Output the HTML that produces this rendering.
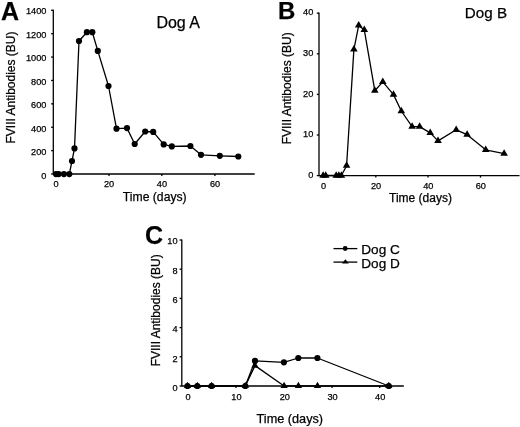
<!DOCTYPE html>
<html><head><meta charset="utf-8"><style>
html,body{margin:0;padding:0;background:#fff;}
body{width:520px;height:427px;overflow:hidden;position:relative;}
svg{position:absolute;left:0;top:0;filter:blur(0.35px);}
text{font-family:"Liberation Sans", sans-serif;fill:#000;stroke:#000;stroke-width:0.25px;}
</style></head><body>
<svg width="520" height="427" viewBox="0 0 520 427">
<line x1="53.30" y1="9.70" x2="53.30" y2="174.60" stroke="#000" stroke-width="1.3"/>
<line x1="53.30" y1="174.00" x2="254.70" y2="174.00" stroke="#000" stroke-width="1.3"/>
<line x1="51.10" y1="174.00" x2="53.30" y2="174.00" stroke="#000" stroke-width="1.3"/>
<text transform="translate(46.40,178.59) scale(1,1)" font-size="9.2" text-anchor="end">0</text>
<line x1="51.10" y1="150.61" x2="53.30" y2="150.61" stroke="#000" stroke-width="1.3"/>
<text transform="translate(46.40,155.09) scale(1,1)" font-size="9.2" text-anchor="end">200</text>
<line x1="51.10" y1="127.23" x2="53.30" y2="127.23" stroke="#000" stroke-width="1.3"/>
<text transform="translate(46.40,131.59) scale(1,1)" font-size="9.2" text-anchor="end">400</text>
<line x1="51.10" y1="103.84" x2="53.30" y2="103.84" stroke="#000" stroke-width="1.3"/>
<text transform="translate(46.40,108.09) scale(1,1)" font-size="9.2" text-anchor="end">600</text>
<line x1="51.10" y1="80.46" x2="53.30" y2="80.46" stroke="#000" stroke-width="1.3"/>
<text transform="translate(46.40,84.59) scale(1,1)" font-size="9.2" text-anchor="end">800</text>
<line x1="51.10" y1="57.07" x2="53.30" y2="57.07" stroke="#000" stroke-width="1.3"/>
<text transform="translate(46.40,61.09) scale(1,1)" font-size="9.2" text-anchor="end">1000</text>
<line x1="51.10" y1="33.69" x2="53.30" y2="33.69" stroke="#000" stroke-width="1.3"/>
<text transform="translate(46.40,37.59) scale(1,1)" font-size="9.2" text-anchor="end">1200</text>
<line x1="51.10" y1="10.30" x2="53.30" y2="10.30" stroke="#000" stroke-width="1.3"/>
<text transform="translate(46.40,14.09) scale(1,1)" font-size="9.2" text-anchor="end">1400</text>
<line x1="56.00" y1="174.00" x2="56.00" y2="176.00" stroke="#000" stroke-width="1.3"/>
<text transform="translate(56.10,187.19) scale(1,1)" font-size="9.2" text-anchor="middle">0</text>
<line x1="109.00" y1="174.00" x2="109.00" y2="176.00" stroke="#000" stroke-width="1.3"/>
<text transform="translate(109.10,187.19) scale(1,1)" font-size="9.2" text-anchor="middle">20</text>
<line x1="161.80" y1="174.00" x2="161.80" y2="176.00" stroke="#000" stroke-width="1.3"/>
<text transform="translate(161.90,187.19) scale(1,1)" font-size="9.2" text-anchor="middle">40</text>
<line x1="214.90" y1="174.00" x2="214.90" y2="176.00" stroke="#000" stroke-width="1.3"/>
<text transform="translate(215.00,187.19) scale(1,1)" font-size="9.2" text-anchor="middle">60</text>
<polyline points="56.0,174.1 58.6,174.1 63.9,174.1 69.3,174.1 72.0,161.0 74.5,148.4 79.0,41.0 86.9,32.2 92.3,32.2 97.8,50.9 108.5,86.0 116.5,128.7 127.0,128.1 134.7,144.0 145.2,131.5 153.2,131.9 163.7,144.4 171.8,146.4 190.4,146.0 201.0,154.8 219.8,155.8 238.3,156.5" fill="none" stroke="#000" stroke-width="1.3" stroke-linejoin="round"/>
<circle cx="56.0" cy="174.1" r="3.1" fill="#000"/>
<circle cx="58.6" cy="174.1" r="3.1" fill="#000"/>
<circle cx="63.9" cy="174.1" r="3.1" fill="#000"/>
<circle cx="69.3" cy="174.1" r="3.1" fill="#000"/>
<circle cx="72.0" cy="161.0" r="3.1" fill="#000"/>
<circle cx="74.5" cy="148.4" r="3.1" fill="#000"/>
<circle cx="79.0" cy="41.0" r="3.1" fill="#000"/>
<circle cx="86.9" cy="32.2" r="3.1" fill="#000"/>
<circle cx="92.3" cy="32.2" r="3.1" fill="#000"/>
<circle cx="97.8" cy="50.9" r="3.1" fill="#000"/>
<circle cx="108.5" cy="86.0" r="3.1" fill="#000"/>
<circle cx="116.5" cy="128.7" r="3.1" fill="#000"/>
<circle cx="127.0" cy="128.1" r="3.1" fill="#000"/>
<circle cx="134.7" cy="144.0" r="3.1" fill="#000"/>
<circle cx="145.2" cy="131.5" r="3.1" fill="#000"/>
<circle cx="153.2" cy="131.9" r="3.1" fill="#000"/>
<circle cx="163.7" cy="144.4" r="3.1" fill="#000"/>
<circle cx="171.8" cy="146.4" r="3.1" fill="#000"/>
<circle cx="190.4" cy="146.0" r="3.1" fill="#000"/>
<circle cx="201.0" cy="154.8" r="3.1" fill="#000"/>
<circle cx="219.8" cy="155.8" r="3.1" fill="#000"/>
<circle cx="238.3" cy="156.5" r="3.1" fill="#000"/>
<text x="156.4" y="27.6" font-size="16" text-anchor="start" font-weight="normal" >Dog A</text>
<text x="122.8" y="201.0" font-size="12.2" text-anchor="start" font-weight="normal" >Time (days)</text>
<text x="1.0" y="19.8" font-size="25" text-anchor="start" font-weight="bold" >A</text>
<text transform="translate(14.8,87.5) rotate(-90)" font-size="12" text-anchor="middle">FVIII Antibodies (BU)</text>
<line x1="319.00" y1="12.60" x2="319.00" y2="176.20" stroke="#000" stroke-width="1.3"/>
<line x1="319.00" y1="175.60" x2="519.50" y2="175.60" stroke="#000" stroke-width="1.3"/>
<line x1="316.80" y1="175.60" x2="319.00" y2="175.60" stroke="#000" stroke-width="1.3"/>
<text transform="translate(313.30,178.14) scale(1,1)" font-size="9.2" text-anchor="end">0</text>
<line x1="316.80" y1="135.00" x2="319.00" y2="135.00" stroke="#000" stroke-width="1.3"/>
<text transform="translate(313.30,137.47) scale(1,1)" font-size="9.2" text-anchor="end">10</text>
<line x1="316.80" y1="94.40" x2="319.00" y2="94.40" stroke="#000" stroke-width="1.3"/>
<text transform="translate(313.30,96.80) scale(1,1)" font-size="9.2" text-anchor="end">20</text>
<line x1="316.80" y1="53.80" x2="319.00" y2="53.80" stroke="#000" stroke-width="1.3"/>
<text transform="translate(313.30,56.13) scale(1,1)" font-size="9.2" text-anchor="end">30</text>
<line x1="316.80" y1="13.20" x2="319.00" y2="13.20" stroke="#000" stroke-width="1.3"/>
<text transform="translate(313.30,15.46) scale(1,1)" font-size="9.2" text-anchor="end">40</text>
<line x1="323.30" y1="175.60" x2="323.30" y2="177.60" stroke="#000" stroke-width="1.3"/>
<text transform="translate(323.60,188.79) scale(1,1)" font-size="9.2" text-anchor="middle">0</text>
<line x1="375.80" y1="175.60" x2="375.80" y2="177.60" stroke="#000" stroke-width="1.3"/>
<text transform="translate(376.10,188.79) scale(1,1)" font-size="9.2" text-anchor="middle">20</text>
<line x1="428.00" y1="175.60" x2="428.00" y2="177.60" stroke="#000" stroke-width="1.3"/>
<text transform="translate(428.30,188.79) scale(1,1)" font-size="9.2" text-anchor="middle">40</text>
<line x1="480.50" y1="175.60" x2="480.50" y2="177.60" stroke="#000" stroke-width="1.3"/>
<text transform="translate(480.80,188.79) scale(1,1)" font-size="9.2" text-anchor="middle">60</text>
<polyline points="323.1,175.5 325.7,175.5 336.2,175.5 338.8,175.5 341.4,175.5 346.6,165.7 353.9,49.4 358.7,25.4 364.3,29.9 374.8,90.7 382.8,81.9 393.5,94.6 401.3,111.0 412.1,126.6 419.6,126.6 430.2,132.9 438.0,140.9 456.2,129.8 467.1,134.7 485.7,149.8 504.1,153.6" fill="none" stroke="#000" stroke-width="1.3" stroke-linejoin="round"/>
<path d="M323.10,171.17L326.90,177.67L319.30,177.67Z" fill="#000"/>
<path d="M325.70,171.17L329.50,177.67L321.90,177.67Z" fill="#000"/>
<path d="M336.20,171.17L340.00,177.67L332.40,177.67Z" fill="#000"/>
<path d="M338.80,171.17L342.60,177.67L335.00,177.67Z" fill="#000"/>
<path d="M341.40,171.17L345.20,177.67L337.60,177.67Z" fill="#000"/>
<path d="M346.60,161.37L350.40,167.87L342.80,167.87Z" fill="#000"/>
<path d="M353.90,45.07L357.70,51.57L350.10,51.57Z" fill="#000"/>
<path d="M358.70,21.07L362.50,27.57L354.90,27.57Z" fill="#000"/>
<path d="M364.30,25.57L368.10,32.07L360.50,32.07Z" fill="#000"/>
<path d="M374.80,86.37L378.60,92.87L371.00,92.87Z" fill="#000"/>
<path d="M382.80,77.57L386.60,84.07L379.00,84.07Z" fill="#000"/>
<path d="M393.50,90.27L397.30,96.77L389.70,96.77Z" fill="#000"/>
<path d="M401.30,106.67L405.10,113.17L397.50,113.17Z" fill="#000"/>
<path d="M412.10,122.27L415.90,128.77L408.30,128.77Z" fill="#000"/>
<path d="M419.60,122.27L423.40,128.77L415.80,128.77Z" fill="#000"/>
<path d="M430.20,128.57L434.00,135.07L426.40,135.07Z" fill="#000"/>
<path d="M438.00,136.57L441.80,143.07L434.20,143.07Z" fill="#000"/>
<path d="M456.20,125.47L460.00,131.97L452.40,131.97Z" fill="#000"/>
<path d="M467.10,130.37L470.90,136.87L463.30,136.87Z" fill="#000"/>
<path d="M485.70,145.47L489.50,151.97L481.90,151.97Z" fill="#000"/>
<path d="M504.10,149.27L507.90,155.77L500.30,155.77Z" fill="#000"/>
<text x="464.8" y="17.9" font-size="15.2" text-anchor="start" font-weight="normal" >Dog B</text>
<text x="389.0" y="202.4" font-size="12" text-anchor="start" font-weight="normal" >Time (days)</text>
<text x="278.0" y="19.4" font-size="24" text-anchor="start" font-weight="bold" >B</text>
<text transform="translate(291.4,88.3) rotate(-90)" font-size="12" text-anchor="middle">FVIII Antibodies (BU)</text>
<line x1="181.80" y1="239.40" x2="181.80" y2="386.60" stroke="#000" stroke-width="1.3"/>
<line x1="181.80" y1="386.00" x2="403.80" y2="386.00" stroke="#000" stroke-width="1.3"/>
<line x1="179.60" y1="386.00" x2="181.80" y2="386.00" stroke="#000" stroke-width="1.3"/>
<text transform="translate(177.60,390.79) scale(1,1)" font-size="9.2" text-anchor="end">0</text>
<line x1="179.60" y1="356.80" x2="181.80" y2="356.80" stroke="#000" stroke-width="1.3"/>
<text transform="translate(177.60,361.53) scale(1,1)" font-size="9.2" text-anchor="end">2</text>
<line x1="179.60" y1="327.60" x2="181.80" y2="327.60" stroke="#000" stroke-width="1.3"/>
<text transform="translate(177.60,332.27) scale(1,1)" font-size="9.2" text-anchor="end">4</text>
<line x1="179.60" y1="298.40" x2="181.80" y2="298.40" stroke="#000" stroke-width="1.3"/>
<text transform="translate(177.60,303.01) scale(1,1)" font-size="9.2" text-anchor="end">6</text>
<line x1="179.60" y1="269.20" x2="181.80" y2="269.20" stroke="#000" stroke-width="1.3"/>
<text transform="translate(177.60,273.75) scale(1,1)" font-size="9.2" text-anchor="end">8</text>
<line x1="179.60" y1="240.00" x2="181.80" y2="240.00" stroke="#000" stroke-width="1.3"/>
<text transform="translate(177.60,244.49) scale(1,1)" font-size="9.2" text-anchor="end">10</text>
<line x1="187.60" y1="386.00" x2="187.60" y2="388.00" stroke="#000" stroke-width="1.3"/>
<text transform="translate(188.10,400.49) scale(1,1)" font-size="9.2" text-anchor="middle">0</text>
<line x1="235.90" y1="386.00" x2="235.90" y2="388.00" stroke="#000" stroke-width="1.3"/>
<text transform="translate(236.40,400.49) scale(1,1)" font-size="9.2" text-anchor="middle">10</text>
<line x1="284.30" y1="386.00" x2="284.30" y2="388.00" stroke="#000" stroke-width="1.3"/>
<text transform="translate(284.80,400.49) scale(1,1)" font-size="9.2" text-anchor="middle">20</text>
<line x1="332.10" y1="386.00" x2="332.10" y2="388.00" stroke="#000" stroke-width="1.3"/>
<text transform="translate(332.60,400.49) scale(1,1)" font-size="9.2" text-anchor="middle">30</text>
<line x1="379.70" y1="386.00" x2="379.70" y2="388.00" stroke="#000" stroke-width="1.3"/>
<text transform="translate(380.20,400.49) scale(1,1)" font-size="9.2" text-anchor="middle">40</text>
<polyline points="187.5,386 197.3,386 211.6,386 245.3,386 255.0,365.6 284.1,386 298.4,386 317.5,386 388.8,386" fill="none" stroke="#000" stroke-width="1.3" stroke-linejoin="round"/>
<polyline points="187.5,386 197.3,386 211.6,386 245.3,386 255.0,360.9 283.9,362.3 298.3,358.0 317.4,358.0 388.8,386" fill="none" stroke="#000" stroke-width="1.3" stroke-linejoin="round"/>
<path d="M187.50,381.87L191.15,388.07L183.85,388.07Z" fill="#000"/>
<path d="M197.30,381.87L200.95,388.07L193.65,388.07Z" fill="#000"/>
<path d="M211.60,381.87L215.25,388.07L207.95,388.07Z" fill="#000"/>
<path d="M245.30,381.87L248.95,388.07L241.65,388.07Z" fill="#000"/>
<path d="M255.00,361.47L258.65,367.67L251.35,367.67Z" fill="#000"/>
<path d="M284.10,381.87L287.75,388.07L280.45,388.07Z" fill="#000"/>
<path d="M298.40,381.87L302.05,388.07L294.75,388.07Z" fill="#000"/>
<path d="M317.50,381.87L321.15,388.07L313.85,388.07Z" fill="#000"/>
<path d="M388.80,381.87L392.45,388.07L385.15,388.07Z" fill="#000"/>
<circle cx="187.5" cy="386" r="3.1" fill="#000"/>
<circle cx="197.3" cy="386" r="3.1" fill="#000"/>
<circle cx="211.6" cy="386" r="3.1" fill="#000"/>
<circle cx="245.3" cy="386" r="3.1" fill="#000"/>
<circle cx="255.0" cy="360.9" r="3.1" fill="#000"/>
<circle cx="283.9" cy="362.3" r="3.1" fill="#000"/>
<circle cx="298.3" cy="358.0" r="3.1" fill="#000"/>
<circle cx="317.4" cy="358.0" r="3.1" fill="#000"/>
<circle cx="388.8" cy="386" r="3.1" fill="#000"/>
<text x="256.6" y="422.7" font-size="12.7" text-anchor="start" font-weight="normal" >Time (days)</text>
<text x="145.0" y="243.8" font-size="25" text-anchor="start" font-weight="bold" >C</text>
<text transform="translate(159.7,310.3) rotate(-90)" font-size="12" text-anchor="middle">FVIII Antibodies (BU)</text>
<line x1="333.50" y1="248.60" x2="357.30" y2="248.60" stroke="#000" stroke-width="1.3"/>
<circle cx="345.2" cy="248.5" r="2.4" fill="#000"/>
<line x1="333.50" y1="262.10" x2="357.30" y2="262.10" stroke="#000" stroke-width="1.3"/>
<path d="M345.40,259.20L348.80,263.40L342.00,263.40Z" fill="#000"/>
<text x="361.3" y="254.4" font-size="13.6" text-anchor="start" font-weight="normal" >Dog C</text>
<text x="361.3" y="267.7" font-size="13.6" text-anchor="start" font-weight="normal" >Dog D</text>
</svg>
</body></html>
